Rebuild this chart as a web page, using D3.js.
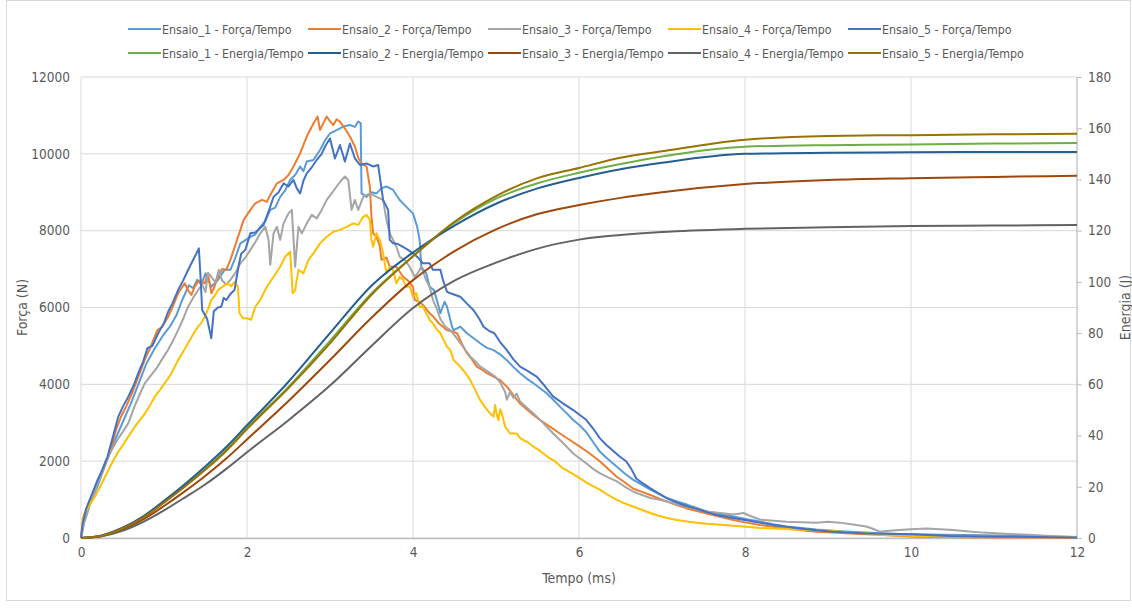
<!DOCTYPE html>
<html>
<head>
<meta charset="utf-8">
<script src="https://cdn.jsdelivr.net/npm/d3@7"></script>
<style>
  body { margin: 0; background: #fff; }
  svg text { font-family: "Liberation Sans Narrow", "DejaVu Sans Condensed", sans-serif; fill: #595959; }
</style>
</head>
<body>
<div id="chart"></div>
<script>
// chart size and plot box
const W = 1132, H = 608;
const margin = {top: 77, right: 55, bottom: 70, left: 81};

// tick labels
const xTicks = [0, 2, 4, 6, 8, 10, 12];
const forceTicks = [0, 2000, 4000, 6000, 8000, 10000, 12000];
const energyTicks = [0, 20, 40, 60, 80, 100, 120, 140, 160, 180];

const forceNames = ["Ensaio_1 - Força/Tempo", "Ensaio_2 - Força/Tempo", "Ensaio_3 - Força/Tempo", "Ensaio_4 - Força/Tempo", "Ensaio_5 - Força/Tempo"];
const energyNames = ["Ensaio_1 - Energia/Tempo", "Ensaio_2 - Energia/Tempo", "Ensaio_3 - Energia/Tempo", "Ensaio_4 - Energia/Tempo", "Ensaio_5 - Energia/Tempo"];
const forceColors = ["#5B9BD5", "#ED7D31", "#A5A5A5", "#FFC000", "#4472C4"];
const energyColors = ["#70AD47", "#255E91", "#9E480E", "#636363", "#997300"];

// force [tempo ms, força N]
const force1 = [[0,0],[0.04,500],[0.1,850],[0.2,1350],[0.3,1950],[0.4,2500],[0.5,3000],[0.6,3500],[0.7,4050],[0.79,4550],[0.88,4900],[0.99,5280],[1.07,5500],[1.15,5800],[1.22,6200],[1.3,6580],[1.35,6500],[1.4,6720],[1.45,6600],[1.5,6890],[1.57,6540],[1.65,6720],[1.73,6980],[1.8,6980],[1.86,7300],[1.92,7670],[2.04,7840],[2.1,7900],[2.16,8100],[2.22,8250],[2.28,8540],[2.34,8600],[2.4,8880],[2.46,9050],[2.52,9320],[2.58,9450],[2.64,9670],[2.68,9550],[2.72,9800],[2.8,9840],[2.88,10100],[2.94,10350],[3.0,10530],[3.08,10620],[3.16,10710],[3.24,10750],[3.3,10700],[3.34,10840],[3.37,10800],[3.38,8970],[3.44,8880],[3.5,9000],[3.56,8970],[3.62,9100],[3.68,9150],[3.76,9060],[3.84,8800],[3.92,8620],[4.0,8450],[4.05,8100],[4.08,7760],[4.1,7060],[4.16,6890],[4.2,6540],[4.25,6460],[4.3,6100],[4.33,5850],[4.38,6150],[4.41,6020],[4.47,5500],[4.49,5410],[4.57,5500],[4.65,5330],[4.73,5200],[4.81,5070],[4.89,4950],[4.97,4890],[5.05,4780],[5.13,4630],[5.21,4450],[5.29,4290],[5.37,4150],[5.45,4030],[5.53,3900],[5.61,3770],[5.69,3600],[5.77,3420],[5.85,3250],[5.93,3070],[6.01,2930],[6.09,2750],[6.17,2500],[6.25,2250],[6.35,2050],[6.45,1870],[6.55,1680],[6.65,1520],[6.76,1380],[6.86,1260],[6.96,1150],[7.06,1040],[7.18,950],[7.3,870],[7.42,780],[7.54,690],[7.7,620],[7.86,560],[8.02,490],[8.18,430],[8.34,360],[8.5,300],[8.68,260],[8.86,220],[9.06,190],[9.26,165],[9.46,140],[9.67,120],[9.87,105],[10.07,95],[10.37,85],[10.67,78],[11.07,65],[11.47,52],[11.75,35],[12,17]];
const force2 = [[0,0],[0.03,450],[0.08,800],[0.14,1150],[0.2,1450],[0.28,1850],[0.35,2250],[0.42,2800],[0.48,3150],[0.55,3450],[0.62,3800],[0.7,4250],[0.77,4650],[0.84,4980],[0.92,5410],[0.98,5500],[1.05,5760],[1.1,6000],[1.17,6370],[1.25,6630],[1.29,6450],[1.33,6330],[1.37,6540],[1.42,6700],[1.49,6630],[1.53,6890],[1.57,6370],[1.6,6500],[1.65,6800],[1.7,7000],[1.75,6980],[1.8,7240],[1.88,7760],[1.96,8280],[2.04,8540],[2.1,8710],[2.18,8800],[2.24,8750],[2.28,8930],[2.36,9230],[2.44,9320],[2.5,9450],[2.56,9670],[2.64,10010],[2.72,10450],[2.8,10790],[2.85,10970],[2.88,10620],[2.92,10800],[2.96,10970],[3.0,10850],[3.04,10750],[3.08,10900],[3.12,10840],[3.18,10660],[3.24,10450],[3.3,10190],[3.34,9900],[3.38,9750],[3.44,9670],[3.48,9150],[3.5,8360],[3.52,7930],[3.56,7840],[3.6,7600],[3.62,7240],[3.68,7300],[3.72,7060],[3.8,7060],[3.88,6800],[3.94,6700],[4.0,6540],[4.02,6200],[4.07,6150],[4.12,6070],[4.2,5850],[4.25,5750],[4.31,5590],[4.36,5500],[4.41,5410],[4.47,5380],[4.53,5330],[4.59,5050],[4.65,4810],[4.71,4650],[4.77,4460],[4.83,4380],[4.89,4290],[4.97,4200],[5.05,4110],[5.13,3940],[5.21,3720],[5.29,3500],[5.37,3350],[5.45,3200],[5.53,3070],[5.65,2900],[5.77,2720],[5.89,2550],[6.01,2380],[6.13,2200],[6.25,2000],[6.35,1800],[6.45,1600],[6.55,1450],[6.65,1290],[6.76,1200],[6.86,1120],[6.96,1030],[7.06,950],[7.18,860],[7.3,770],[7.42,700],[7.54,640],[7.7,550],[7.86,470],[8.02,400],[8.18,340],[8.34,290],[8.5,250],[8.68,200],[8.86,165],[9.06,140],[9.26,120],[9.46,100],[9.67,80],[9.87,55],[10.07,35],[10.3,25],[10.67,17],[11.0,15],[11.47,15],[12,8]];
const force3 = [[0,0],[0.04,400],[0.1,800],[0.17,1250],[0.25,1700],[0.3,2000],[0.37,2290],[0.45,2600],[0.5,2750],[0.57,2990],[0.65,3450],[0.72,3800],[0.77,4030],[0.85,4250],[0.92,4450],[0.97,4630],[1.05,4900],[1.1,5100],[1.17,5410],[1.23,5700],[1.29,6020],[1.35,6250],[1.41,6450],[1.46,6600],[1.5,6400],[1.53,6900],[1.57,6800],[1.62,6650],[1.66,6980],[1.7,6700],[1.75,6600],[1.8,6720],[1.86,6900],[1.92,7150],[1.98,7300],[2.04,7500],[2.1,7700],[2.16,7930],[2.22,8100],[2.26,7760],[2.28,7110],[2.32,7930],[2.36,8100],[2.4,7760],[2.44,8190],[2.5,8450],[2.54,8540],[2.58,7060],[2.62,8100],[2.66,7930],[2.72,8190],[2.78,8410],[2.84,8320],[2.9,8540],[2.96,8800],[3.02,8970],[3.08,9150],[3.14,9320],[3.18,9410],[3.22,9320],[3.26,8540],[3.3,8800],[3.34,8540],[3.4,8880],[3.48,8970],[3.56,8880],[3.64,8800],[3.68,8280],[3.72,7930],[3.76,7760],[3.8,7580],[3.84,7320],[3.9,7240],[3.96,7060],[4.02,6800],[4.06,6900],[4.1,7060],[4.16,6700],[4.2,6540],[4.24,6200],[4.28,6000],[4.33,5700],[4.39,5500],[4.45,5410],[4.51,5250],[4.57,5070],[4.63,4900],[4.69,4720],[4.75,4600],[4.81,4460],[4.87,4380],[4.93,4290],[4.99,4200],[5.05,4050],[5.11,3800],[5.13,3600],[5.17,3800],[5.21,3650],[5.25,3760],[5.29,3550],[5.37,3400],[5.45,3240],[5.53,3080],[5.61,2900],[5.69,2720],[5.77,2550],[5.85,2380],[5.93,2200],[6.01,2070],[6.09,1940],[6.17,1800],[6.25,1690],[6.35,1580],[6.45,1480],[6.55,1340],[6.65,1210],[6.76,1120],[6.86,1040],[6.96,1000],[7.06,950],[7.18,880],[7.3,820],[7.42,760],[7.54,690],[7.7,650],[7.86,610],[7.98,650],[8.08,560],[8.18,480],[8.34,450],[8.5,420],[8.68,410],[8.86,400],[9.0,420],[9.14,400],[9.3,350],[9.46,300],[9.54,240],[9.62,165],[9.74,190],[9.86,210],[10.0,230],[10.19,250],[10.35,230],[10.51,210],[10.7,170],[10.87,140],[11.07,115],[11.27,95],[11.47,75],[11.67,52],[11.85,38],[12,26]];
const force4 = [[0,0],[0.02,500],[0.04,640],[0.1,850],[0.16,1050],[0.21,1250],[0.28,1550],[0.37,1940],[0.45,2250],[0.5,2400],[0.57,2640],[0.65,2900],[0.72,3100],[0.77,3240],[0.83,3450],[0.89,3680],[0.95,3850],[1.01,4030],[1.08,4250],[1.17,4630],[1.23,4850],[1.29,5070],[1.35,5300],[1.41,5500],[1.45,5600],[1.49,5760],[1.53,5950],[1.57,6200],[1.61,6300],[1.65,6450],[1.71,6550],[1.77,6630],[1.81,6550],[1.85,6670],[1.89,6540],[1.91,5850],[1.95,5720],[2.0,5720],[2.05,5680],[2.1,6020],[2.16,6200],[2.24,6540],[2.32,6800],[2.4,7060],[2.46,7320],[2.52,7450],[2.55,6370],[2.58,6450],[2.62,6980],[2.68,6890],[2.74,7240],[2.8,7410],[2.88,7670],[2.96,7840],[3.04,7970],[3.12,8020],[3.2,8100],[3.28,8190],[3.34,8150],[3.4,8360],[3.44,8410],[3.48,8280],[3.5,7760],[3.52,7580],[3.56,7930],[3.6,7760],[3.64,7410],[3.68,6890],[3.72,7050],[3.76,6980],[3.8,6630],[3.84,6800],[3.88,6720],[3.92,6540],[3.96,6550],[4.0,6280],[4.04,6370],[4.08,6020],[4.12,6020],[4.16,5850],[4.2,5680],[4.24,5590],[4.28,5450],[4.33,5330],[4.37,5150],[4.41,4980],[4.45,4890],[4.49,4630],[4.57,4460],[4.63,4300],[4.69,4110],[4.75,3850],[4.81,3590],[4.87,3400],[4.93,3240],[4.97,3160],[4.99,3460],[5.01,3200],[5.03,3070],[5.05,3350],[5.07,3240],[5.11,2900],[5.17,2720],[5.25,2720],[5.29,2600],[5.33,2550],[5.39,2480],[5.45,2380],[5.51,2300],[5.57,2200],[5.63,2100],[5.69,2030],[5.75,1920],[5.81,1810],[5.9,1700],[6.0,1570],[6.1,1430],[6.25,1260],[6.35,1120],[6.45,1000],[6.55,900],[6.65,820],[6.76,730],[6.86,650],[6.96,580],[7.06,520],[7.18,470],[7.3,430],[7.42,400],[7.54,370],[7.7,345],[7.86,320],[8.02,290],[8.18,260],[8.34,245],[8.5,235],[8.68,215],[8.86,200],[9.06,175],[9.26,150],[9.46,115],[9.67,80],[9.87,62],[10.07,52],[10.37,42],[10.67,35],[11.07,30],[11.47,26],[12,17]];
const force5 = [[0,0],[0.02,380],[0.06,750],[0.12,1075],[0.2,1510],[0.26,1800],[0.32,2120],[0.38,2600],[0.45,3160],[0.5,3400],[0.57,3680],[0.63,3950],[0.69,4290],[0.75,4600],[0.8,4940],[0.86,5000],[0.93,5330],[1.0,5600],[1.05,5890],[1.1,6100],[1.17,6455],[1.23,6700],[1.29,6976],[1.37,7320],[1.42,7540],[1.44,6800],[1.46,5935],[1.52,5700],[1.57,5200],[1.6,5900],[1.65,6000],[1.69,6020],[1.72,6250],[1.75,6195],[1.8,6350],[1.85,6455],[1.9,7100],[1.93,7400],[1.98,7500],[2.04,7930],[2.1,7950],[2.2,8150],[2.26,8500],[2.32,8880],[2.38,9000],[2.44,9230],[2.5,9150],[2.56,9320],[2.6,9100],[2.64,8970],[2.68,9300],[2.72,9490],[2.78,9650],[2.84,9840],[2.9,10000],[2.94,10190],[3.0,10400],[3.06,9880],[3.12,10230],[3.18,9800],[3.24,10270],[3.3,9880],[3.36,9710],[3.44,9750],[3.52,9670],[3.58,9710],[3.64,8800],[3.7,8540],[3.72,7760],[3.76,7670],[3.82,7650],[3.88,7580],[3.94,7500],[4.0,7410],[4.06,7300],[4.12,7150],[4.2,7150],[4.24,6980],[4.33,6980],[4.36,6720],[4.41,6410],[4.45,6370],[4.57,6280],[4.65,6100],[4.73,5930],[4.8,5700],[4.85,5500],[4.91,5400],[4.98,5330],[5.05,5100],[5.13,4890],[5.21,4650],[5.29,4460],[5.38,4350],[5.49,4200],[5.59,3950],[5.69,3680],[5.81,3500],[5.93,3330],[6.01,3200],[6.09,3070],[6.17,2850],[6.25,2600],[6.33,2420],[6.41,2270],[6.49,2120],[6.57,1990],[6.63,1800],[6.69,1550],[6.77,1420],[6.86,1290],[6.96,1160],[7.06,1030],[7.16,940],[7.26,860],[7.36,790],[7.46,730],[7.56,660],[7.66,600],[7.8,540],[8.0,470],[8.17,400],[8.34,340],[8.5,290],[8.66,250],[8.86,200],[9.06,165],[9.26,140],[9.46,120],[9.7,110],[10.0,100],[10.2,75],[10.47,50],[10.8,40],[11.07,35],[11.5,25],[12,15]];

// energy (J) sampled at these times
const energyTime = [0, 0.25, 0.5, 0.75, 1, 1.25, 1.5, 1.75, 2, 2.5, 3, 3.5, 4, 4.5, 5, 5.5, 6, 6.5, 7, 8, 9, 10, 11, 12];
const energy1 = [0, 0.9, 3.8, 8.2, 14, 20.3, 27, 34.5, 43, 59, 77, 95.5, 110, 123, 132.5, 138.5, 142.6, 146, 149, 152.8, 153.4, 153.6, 154, 154.2];
const energy2 = [0, 1.0, 4.0, 8.5, 14.5, 21, 28, 35.5, 44, 61, 80, 98.5, 111.5, 122, 130.5, 136.5, 140.6, 144, 146.5, 150, 150.4, 150.6, 150.7, 150.7];
const energy3 = [0, 0.8, 3.3, 7.3, 12.5, 18.2, 24.3, 31, 38.5, 53.5, 69.5, 86, 100.7, 112, 120.5, 126.5, 130, 132.8, 135, 138.2, 139.8, 140.5, 141, 141.4];
const energy4 = [0, 0.7, 2.8, 6.3, 10.8, 15.8, 21, 27, 33.5, 46, 59.5, 75, 89.8, 100.5, 107.5, 113, 116.5, 118.3, 119.5, 120.7, 121.3, 121.8, 122, 122.2];
const energy5 = [0, 0.9, 3.7, 8, 13.8, 20, 26.7, 34, 42.5, 58.5, 76, 95, 110, 123.5, 133.5, 140.5, 144.5, 148.5, 151, 155.5, 157, 157.3, 157.6, 157.8];

const forceSeries = [force1, force2, force3, force4, force5];
const energySeries = [energy1, energy2, energy3, energy4, energy5];

let svg = d3.select("#chart").append("svg")
    .attr("width", W)
    .attr("height", H);

// outer chart border
svg.append("rect")
    .attr("x", 6.5).attr("y", 0.5)
    .attr("width", W - 8).attr("height", H - 8)
    .attr("fill", "none")
    .attr("stroke", "#d9d9d9");

const plotW = W - margin.left - margin.right;
const plotH = H - margin.top - margin.bottom;

let x = d3.scaleLinear().domain([0, 12]).range([margin.left, margin.left + plotW]);
let yF = d3.scaleLinear().domain([0, 12000]).range([margin.top + plotH, margin.top]);
let yE = d3.scaleLinear().domain([0, 180]).range([margin.top + plotH, margin.top]);

// gridlines
svg.append("g").selectAll("line").data(forceTicks).join("line")
    .attr("x1", x(0)).attr("x2", x(12))
    .attr("y1", d => yF(d)).attr("y2", d => yF(d))
    .attr("stroke", "#d9d9d9");
svg.append("g").selectAll("line").data(xTicks).join("line")
    .attr("x1", d => x(d)).attr("x2", d => x(d))
    .attr("y1", yF(0)).attr("y2", yF(12000))
    .attr("stroke", "#d9d9d9");

// bottom axis
let xAxis = svg.append("g")
    .attr("transform", `translate(0, ${yF(0)})`)
    .call(d3.axisBottom(x).tickValues(xTicks).tickSize(0).tickPadding(9));
xAxis.select(".domain").attr("stroke", "#bfbfbf").attr("stroke-width", 1.5);
xAxis.selectAll("text").style("font-size", "13.5px").attr("fill", "#595959");

// left axis, labels only
let yAxisL = svg.append("g")
    .attr("transform", `translate(${margin.left}, 0)`)
    .call(d3.axisLeft(yF).tickValues(forceTicks).tickSize(0).tickPadding(11).tickFormat(d3.format("d")));
yAxisL.select(".domain").remove();
yAxisL.selectAll("text").style("font-size", "13.5px").attr("fill", "#595959");

// right axis with small outer ticks
let yAxisR = svg.append("g")
    .attr("transform", `translate(${x(12)}, 0)`)
    .call(d3.axisRight(yE).tickValues(energyTicks).tickSize(5).tickPadding(6));
yAxisR.select(".domain").attr("stroke", "#bfbfbf").attr("d", `M0,${yE(180)}V${yE(0)}`);
yAxisR.selectAll("line").attr("stroke", "#bfbfbf");
yAxisR.selectAll("text").style("font-size", "13.5px").attr("fill", "#595959");

// axis titles
svg.append("text")
    .attr("transform", `translate(${W / 2 + 13}, 578)`)
    .attr("text-anchor", "middle")
    .attr("dominant-baseline", "central")
    .style("font-size", "14px")
    .text("Tempo (ms)");
svg.append("text")
    .attr("transform", `translate(22, ${margin.top + plotH / 2}) rotate(-90)`)
    .attr("text-anchor", "middle")
    .attr("dominant-baseline", "central")
    .style("font-size", "14px")
    .text("Força (N)");
svg.append("text")
    .attr("transform", `translate(1125, ${margin.top + plotH / 2}) rotate(-90)`)
    .attr("text-anchor", "middle")
    .attr("dominant-baseline", "central")
    .style("font-size", "14px")
    .text("Energia (J)");

// force curves
let forceLine = d3.line()
    .x(d => x(d[0]))
    .y(d => yF(d[1]));
svg.append("g").selectAll("path").data(forceSeries).join("path")
    .attr("d", forceLine)
    .attr("fill", "none")
    .attr("stroke", (d, i) => forceColors[i])
    .attr("stroke-width", 2)
    .attr("stroke-linejoin", "round");

// energy curves, drawn on top (secondary axis)
let energyLine = d3.line()
    .x((d, i) => x(energyTime[i]))
    .y(d => yE(d))
    .curve(d3.curveMonotoneX);
svg.append("g").selectAll("path").data(energySeries).join("path")
    .attr("d", energyLine)
    .attr("fill", "none")
    .attr("stroke", (d, i) => energyColors[i])
    .attr("stroke-width", 2);

// legend: two rows of five
const legendX = [128, 308, 488, 668, 848];
const legendY = [29, 53];
let legendItems = [];
forceNames.forEach((n, i) => legendItems.push({name: n, color: forceColors[i], col: i, row: 0}));
energyNames.forEach((n, i) => legendItems.push({name: n, color: energyColors[i], col: i, row: 1}));

let legend = svg.append("g").selectAll("g").data(legendItems).join("g")
    .attr("transform", d => `translate(${legendX[d.col]}, ${legendY[d.row]})`);
legend.append("line")
    .attr("x1", 0).attr("x2", 33)
    .attr("stroke", d => d.color)
    .attr("stroke-width", 2);
legend.append("text")
    .attr("x", 34)
    .attr("y", 1)
    .attr("dominant-baseline", "central")
    .style("font-size", "12.3px")
    .text(d => d.name);
</script>
</body>
</html>
